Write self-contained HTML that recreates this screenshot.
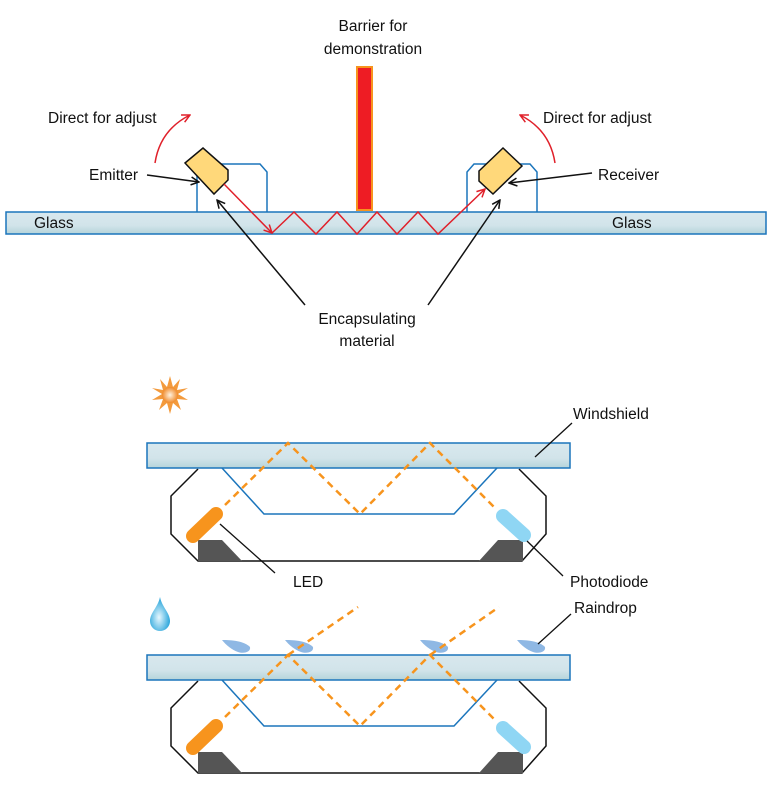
<!DOCTYPE html>
<html><head><meta charset="utf-8"><style>
html,body{margin:0;padding:0;background:#fff;width:770px;height:790px;overflow:hidden}
text{font-family:"Liberation Sans",sans-serif;font-size:15.5px;fill:#111}
</style></head><body>
<svg width="770" height="790" viewBox="0 0 770 790" xmlns="http://www.w3.org/2000/svg">
<defs>
<linearGradient id="g" x1="0" y1="0" x2="0" y2="1"><stop offset="0" stop-color="#d8e8ee"/><stop offset="0.6" stop-color="#d2e4ea"/><stop offset="1" stop-color="#b5d4da"/></linearGradient>
<radialGradient id="sun" cx="0.5" cy="0.5" r="0.5"><stop offset="0" stop-color="#fff3e0"/><stop offset="1" stop-color="#f08a2a"/></radialGradient>
<radialGradient id="drop" cx="0.45" cy="0.6" r="0.6"><stop offset="0" stop-color="#e8f8ff"/><stop offset="1" stop-color="#1a9fd8"/></radialGradient>
<marker id="ab" markerWidth="10" markerHeight="10" refX="9" refY="5" orient="auto" markerUnits="userSpaceOnUse"><path d="M1,1 L9,5 L1,9" fill="none" stroke="#111" stroke-width="1.5"/></marker>
<marker id="ar" markerWidth="10" markerHeight="10" refX="9" refY="5" orient="auto" markerUnits="userSpaceOnUse"><path d="M1,1 L9,5 L1,9" fill="none" stroke="#e0202a" stroke-width="1.5"/></marker>
</defs>

<!-- TOP -->
<text x="373" y="31" text-anchor="middle">Barrier for</text>
<text x="373" y="54" text-anchor="middle">demonstration</text>
<rect x="357" y="67" width="15" height="143" fill="#ee1c24" stroke="#f7941d" stroke-width="2"/>
<path d="M197,212 V164 H260 L267,172 V212" fill="none" stroke="#1b75bc" stroke-width="1.5"/>
<path d="M467,212 V172 L474,164 H530 L537,172 V212" fill="none" stroke="#1b75bc" stroke-width="1.5"/>
<rect x="6" y="212" width="760" height="22" fill="url(#g)" stroke="#1b75bc" stroke-width="1.5"/>
<text x="34" y="228">Glass</text>
<text x="612" y="228">Glass</text>
<polygon points="185,163 203,148 228,170 228,180 214,194" fill="#ffd87a" stroke="#111" stroke-width="1.5"/>
<polygon points="479,171 503,148 522,166 493,194 479,181" fill="#ffd87a" stroke="#111" stroke-width="1.5"/>
<polyline points="224,184 272,233" fill="none" stroke="#e0202a" stroke-width="1.5" marker-end="url(#ar)"/>
<polyline points="272,233 294,212 316,234 337,212 357,234 377,212 397,234 418,212 438,234 485,189" fill="none" stroke="#e0202a" stroke-width="1.5" marker-end="url(#ar)"/>
<path d="M155,163 Q160,130 190,115" fill="none" stroke="#e0202a" stroke-width="1.5" marker-end="url(#ar)"/>
<path d="M555,163 Q550,130 520,115" fill="none" stroke="#e0202a" stroke-width="1.5" marker-end="url(#ar)"/>
<text x="48" y="123">Direct for adjust</text>
<text x="543" y="123">Direct for adjust</text>
<text x="89" y="180">Emitter</text>
<text x="598" y="180">Receiver</text>
<line x1="147" y1="175" x2="199" y2="182" stroke="#111" stroke-width="1.5" marker-end="url(#ab)"/>
<line x1="592" y1="173" x2="509" y2="183" stroke="#111" stroke-width="1.5" marker-end="url(#ab)"/>
<line x1="305" y1="305" x2="217" y2="200" stroke="#111" stroke-width="1.5" marker-end="url(#ab)"/>
<line x1="428" y1="305" x2="500" y2="200" stroke="#111" stroke-width="1.5" marker-end="url(#ab)"/>
<text x="367" y="324" text-anchor="middle">Encapsulating</text>
<text x="367" y="346" text-anchor="middle">material</text>

<!-- SUN -->
<g transform="translate(170,395)">
<polygon fill="#f39a3c" points="0,-19 3,-8 10,-16 7,-5 18,-7 8,-1 18,5 7,4 11,15 3,8 0,19 -3,8 -11,15 -7,4 -18,5 -8,-1 -18,-7 -7,-5 -10,-16 -3,-8"/>
<circle r="8" fill="url(#sun)"/>
</g>

<!-- SECTION 1 -->
<g>
<path d="M198,469 L171,496 V534 L198,561 H522 L546,534 V496 L519,469" fill="none" stroke="#111" stroke-width="1.5"/>
<path d="M222,468 L264,514 H454 L497,468" fill="none" stroke="#1b75bc" stroke-width="1.5"/>
<polygon points="198,540 222,540 242,561 198,561" fill="#555"/>
<polygon points="479,561 498,540 523,540 523,561" fill="#555"/>
<line x1="193" y1="536" x2="216" y2="514" stroke="#f7941d" stroke-width="14" stroke-linecap="round"/>
<line x1="503" y1="516" x2="524" y2="535" stroke="#8fd6f4" stroke-width="14" stroke-linecap="round"/>
<rect x="147" y="443" width="423" height="25" fill="url(#g)" stroke="#1b75bc" stroke-width="1.5"/>
<polyline points="225,505 288,443 360,514 430,443 497,510" fill="none" stroke="#f7941d" stroke-width="2.5" stroke-dasharray="7,5"/>
</g>
<text x="573" y="419">Windshield</text>
<line x1="572" y1="423" x2="535" y2="457" stroke="#111" stroke-width="1.3"/>
<text x="293" y="587">LED</text>
<line x1="220" y1="524" x2="275" y2="573" stroke="#111" stroke-width="1.3"/>
<text x="570" y="587">Photodiode</text>
<line x1="527" y1="541" x2="563" y2="576" stroke="#111" stroke-width="1.3"/>

<!-- DROP -->
<path d="M160,597 C158,607 150,613 150,621 A10,10 0 0 0 170,621 C170,613 162,607 160,597 Z" fill="url(#drop)"/>

<!-- SECTION 2 -->
<g transform="translate(0,212)">
<path d="M198,469 L171,496 V534 L198,561 H522 L546,534 V496 L519,469" fill="none" stroke="#111" stroke-width="1.5"/>
<path d="M222,468 L264,514 H454 L497,468" fill="none" stroke="#1b75bc" stroke-width="1.5"/>
<polygon points="198,540 222,540 242,561 198,561" fill="#555"/>
<polygon points="479,561 498,540 523,540 523,561" fill="#555"/>
<line x1="193" y1="536" x2="216" y2="514" stroke="#f7941d" stroke-width="14" stroke-linecap="round"/>
<line x1="503" y1="516" x2="524" y2="535" stroke="#8fd6f4" stroke-width="14" stroke-linecap="round"/>
<rect x="147" y="443" width="423" height="25" fill="url(#g)" stroke="#1b75bc" stroke-width="1.5"/>
</g>
<g fill="#8fb8e4">
<path d="M222,640 C232,640 244,641 250,647 C251,652 244,654 238,652 C232,650 226,645 222,640 Z"/>
<path d="M285,640 C295,640 307,641 313,647 C314,652 307,654 301,652 C295,650 289,645 285,640 Z"/>
<path d="M420,640 C430,640 442,641 448,647 C449,652 442,654 436,652 C430,650 424,645 420,640 Z"/>
<path d="M517,640 C527,640 539,641 545,647 C546,652 539,654 533,652 C527,650 521,645 517,640 Z"/>
</g>
<polyline points="225,717 288,655 360,726 430,655 497,722" fill="none" stroke="#f7941d" stroke-width="2.5" stroke-dasharray="7,5"/>
<line x1="288" y1="655" x2="358" y2="607" stroke="#f7941d" stroke-width="2.5" stroke-dasharray="7,5"/>
<line x1="430" y1="655" x2="499" y2="607" stroke="#f7941d" stroke-width="2.5" stroke-dasharray="7,5"/>
<text x="574" y="613">Raindrop</text>
<line x1="571" y1="614" x2="538" y2="644" stroke="#111" stroke-width="1.3"/>
</svg>
</body></html>
